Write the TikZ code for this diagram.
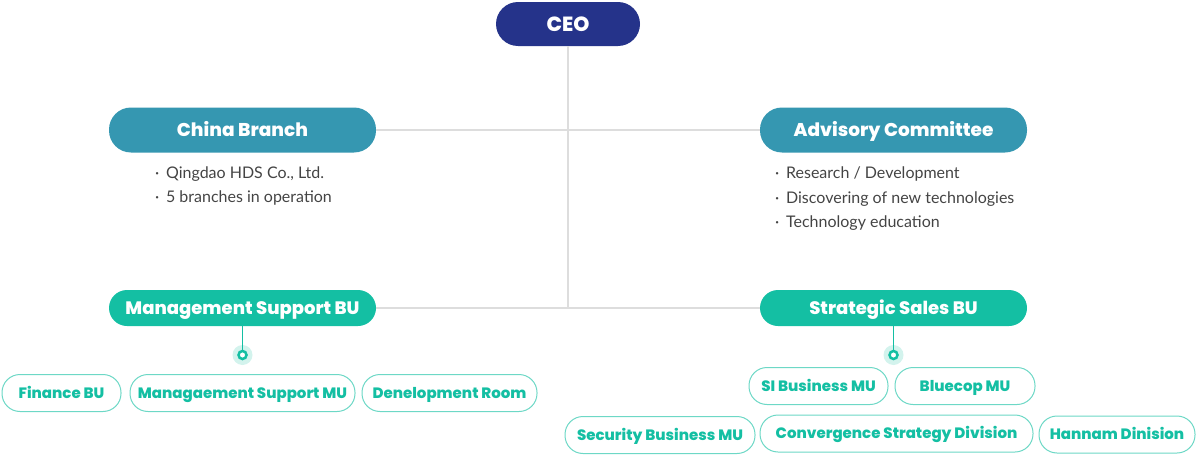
\documentclass[tikz,border=0pt]{standalone}
\usepackage{fontspec}
\setmainfont{Lato}
\newfontfamily\popf{Poppins}[BoldFont={Poppins ExtraBold}]
\definecolor{navy}{HTML}{25338A}
\definecolor{tealblue}{HTML}{3597B1}
\definecolor{teal2}{HTML}{14BFA3}
\definecolor{tealline}{HTML}{6DD8C6}
\definecolor{halo}{HTML}{D3F3ED}
\definecolor{gline}{HTML}{DDDDDD}
\definecolor{txt}{HTML}{444444}
\tikzset{
  pill/.style={rectangle, rounded corners=18pt, inner sep=0pt, text=white,
    text height=12.8pt, text depth=0pt,
    font=\popf\bfseries\fontsize{18}{18}\selectfont},
  topbox/.style={pill, fill=tealblue, minimum width=267pt, minimum height=45pt, rounded corners=22pt,
    text height=13.4pt, font=\popf\bfseries\fontsize{18.5}{18.5}\selectfont},
  bubox/.style={pill, fill=teal2, minimum width=267pt, minimum height=36pt},
  subbox/.style={rectangle, rounded corners=18pt, inner sep=0pt, draw=tealline, line width=1pt,
    text height=10.8pt, text depth=0pt,
    fill=white, text=teal2, minimum height=37pt, font=\popf\bfseries\fontsize{15}{15}\selectfont},
  conn/.style={draw=gline, line width=1.5pt},
  tconn/.style={draw=teal2, line width=1.5pt},
  bullet/.style={anchor=west, inner sep=0pt, text=txt, font=\fontsize{16}{16}\selectfont},
}
\begin{document}
\begin{tikzpicture}[x=1pt,y=-1pt]
\useasboundingbox (0,0) rectangle (1200,455);
% nodes
\node[pill, fill=navy, minimum width=144pt, minimum height=44pt, rounded corners=22pt,
  text height=14.6pt, font=\popf\bfseries\fontsize{20.5}{20.5}\selectfont] (ceo) at (568,24) {CEO};
\node[topbox] (china) at (242.5,130) {China Branch};
\node[topbox] (adv) at (893.5,130) {Advisory Committee};
\node[bubox] (msbu) at (242.5,308) {Management Support BU};
\node[bubox] (ssbu) at (893.5,308) {Strategic Sales BU};
\coordinate (junc) at (568,308);
% connectors
\draw[conn] (ceo.south) -- (junc);
\draw[conn] (china.east) -- (adv.west);
\draw[conn] (msbu.east) -- (ssbu.west);
% bullets
\node[bullet] (b1) at (155,174) {·\, Qingdao HDS Co., Ltd.};
\node[bullet] (b2) at (155,198) {·\, 5 branches in operation};
\node[bullet] (b3) at (775,174) {·\, Research / Development};
\node[bullet] (b4) at (775,199) {·\, Discovering of new technologies};
\node[bullet] (b5) at (775,223) {·\, Technology education};
% dots
\node[circle, fill=halo, minimum size=20pt, inner sep=0pt] (dotL) at (242.5,355) {};
\node[circle, fill=halo, minimum size=20pt, inner sep=0pt] (dotR) at (893.5,355) {};
\draw[tconn] (msbu.south) -- (dotL.center);
\draw[tconn] (ssbu.south) -- (dotR.center);
\node[circle, draw=teal2, line width=2.5pt, fill=white, minimum size=8pt, inner sep=0pt] (dotLi) at (dotL) {};
\node[circle, draw=teal2, line width=2.5pt, fill=white, minimum size=8pt, inner sep=0pt] (dotRi) at (dotR) {};
% sub boxes
\node[subbox, minimum width=119pt] (fin) at (61.5,393) {Finance BU};
\node[subbox, minimum width=225pt] (msmu) at (242.5,393) {Managaement Support MU};
\node[subbox, minimum width=175pt] (dev) at (449.5,393) {Denelopment Room};
\node[subbox, minimum width=139pt] (si) at (818.5,386) {SI Business MU};
\node[subbox, minimum width=140pt] (blue) at (965,386) {Bluecop MU};
\node[subbox, minimum width=190pt] (sec) at (660,435) {Security Business MU};
\node[subbox, minimum width=273pt] (conv) at (896.5,433.5) {Convergence Strategy Division};
\node[subbox, minimum width=156pt] (han) at (1117,434.5) {Hannam Dinision};
\end{tikzpicture}
\end{document}
